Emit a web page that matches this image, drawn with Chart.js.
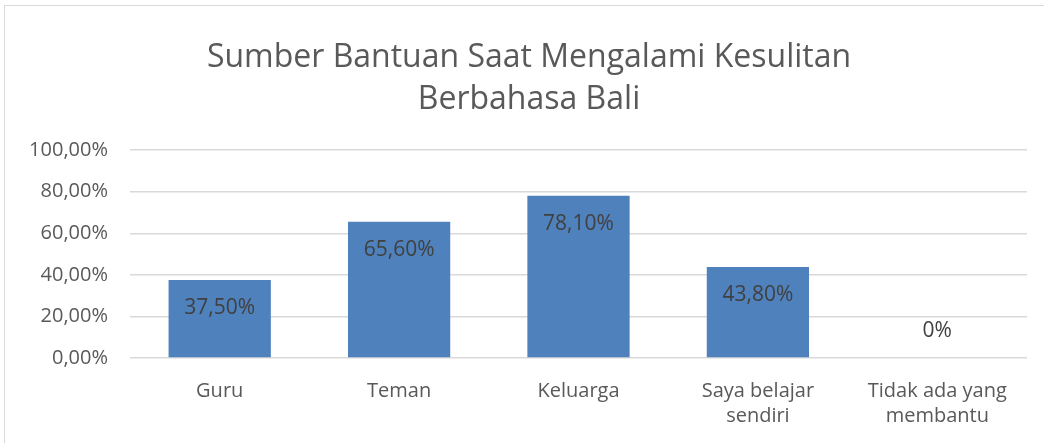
<!DOCTYPE html>
<html>
<head>
<meta charset="utf-8">
<script src="https://cdn.jsdelivr.net/npm/chart.js@4/dist/chart.umd.min.js"></script>
<style>
  html, body { margin: 0; padding: 0; background: #fff; overflow: hidden; width: 1044px; height: 443px; }
  #frame { position: absolute; left: 4px; top: 5px; width: 1052px; height: 450px; border: 1px solid #d9d9d9; box-sizing: border-box; }
  #wrap { position: absolute; left: 0; top: 0; width: 1058px; height: 443px; }
</style>
</head>
<body>
<div id="frame"></div>
<div id="wrap"><canvas id="c" width="1058" height="443"></canvas></div>
<script>
const categories = ["Guru", "Teman", "Keluarga", ["Saya belajar", "sendiri"], ["Tidak ada yang", "membantu"]];
const values = [37.5, 65.6, 78.1, 43.8, 0];
const valueLabels = ["37,50%", "65,60%", "78,10%", "43,80%", "0%"];
const yTicks = [0, 20, 40, 60, 80, 100];
const titleLines = ["Sumber Bantuan Saat Mengalami Kesulitan", "Berbahasa Bali"];

const FONT = "'Open Sans', 'Noto Sans', sans-serif";

const barLabels = {
  id: 'barLabels',
  afterDatasetsDraw(chart) {
    const ctx = chart.ctx;
    const meta = chart.getDatasetMeta(0);
    ctx.save();
    ctx.font = "21px " + FONT;
    ctx.fillStyle = "#404040";
    ctx.textAlign = "center";
    ctx.textBaseline = "middle";
    meta.data.forEach((bar, i) => {
      const h = bar.base - bar.y;
      let y = h > 40 ? bar.y + 28 : bar.base - 27;
      ctx.fillText(valueLabels[i], bar.x, y);
    });
    ctx.restore();
  }
};

new Chart(document.getElementById('c'), {
  type: 'bar',
  data: {
    labels: categories,
    datasets: [{
      data: values,
      backgroundColor: '#4f81bd',
      borderWidth: 0,
      categoryPercentage: 1.0,
      barPercentage: 0.57
    }]
  },
  options: {
    responsive: false,
    animation: false,
    layout: { padding: 0 },
    plugins: {
      legend: { display: false },
      tooltip: { enabled: false },
      title: {
        display: true,
        text: titleLines,
        color: '#595959',
        font: { family: FONT, size: 32, weight: 'normal', lineHeight: 1.3 },
        padding: { top: 37, bottom: 30 }
      }
    },
    scales: {
      y: {
        min: 0, max: 100,
        afterBuildTicks(scale) { scale.ticks = yTicks.map(v => ({ value: v })); },
        afterFit(scale) { scale.width = 130; },
        ticks: {
          color: '#595959',
          font: { family: FONT, size: 20 },
          padding: 22,
          callback: v => v.toFixed(2).replace('.', ',') + '%'
        },
        grid: { color: '#d9d9d9', lineWidth: 1.5, drawTicks: false },
        border: { display: false }
      },
      yRight: {
        position: 'right',
        min: 0, max: 100,
        afterFit(scale) { scale.width = 31; },
        ticks: { display: false },
        grid: { display: false, drawTicks: false },
        border: { display: false }
      },
      x: {
        afterFit(scale) { scale.height = 85; },
        ticks: {
          color: '#595959',
          font: { family: FONT, size: 20, lineHeight: 1.25 },
          padding: 13,
          maxRotation: 0, autoSkip: false
        },
        grid: { display: false },
        border: { display: false }
      }
    }
  },
  plugins: [barLabels]
});
</script>
</body>
</html>
